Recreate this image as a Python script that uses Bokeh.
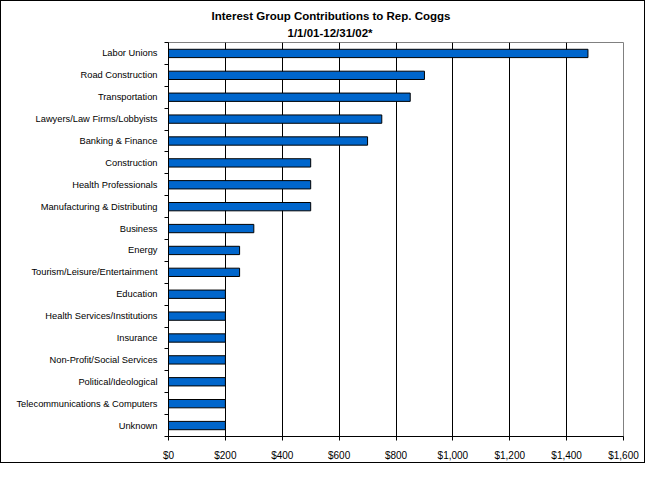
from bokeh.plotting import figure
from bokeh.models import (ColumnDataSource, Range1d, FixedTicker, NumeralTickFormatter, Title)
from bokeh.embed import file_html
from bokeh.resources import INLINE

title_text = "Interest Group Contributions to Rep. Coggs"
subtitle_text = "1/1/01-12/31/02*"

categories = ["Labor Unions", "Road Construction", "Transportation",
              "Lawyers/Law Firms/Lobbyists", "Banking & Finance", "Construction",
              "Health Professionals", "Manufacturing & Distributing", "Business",
              "Energy", "Tourism/Leisure/Entertainment", "Education",
              "Health Services/Institutions", "Insurance", "Non-Profit/Social Services",
              "Political/Ideological", "Telecommunications & Computers", "Unknown"]
values = [1475, 900, 850, 750, 700, 500, 500, 500, 300, 250, 250,
          200, 200, 200, 200, 200, 200, 200]
x_ticks = [0, 200, 400, 600, 800, 1000, 1200, 1400, 1600]

n = len(categories)
positions = [i + 0.5 for i in range(n)]

src = ColumnDataSource(dict(y=positions, v=values, cat=categories))

p = figure(width=645, height=463, output_backend="svg", toolbar_location=None,
           title=None, x_range=Range1d(0, 1600), y_range=Range1d(n, 0),
           min_border_left=167, min_border_right=23, min_border_top=41,
           min_border_bottom=28)
p.background_fill_color = "white"
p.border_fill_color = "white"
p.outline_line_color = "#808080"
p.outline_line_width = 1
p.styles = {"border": "1px solid black"}

p.hbar(y="y", left=0, right="v", height=0.38, source=src,
       fill_color="#0066CC", line_color="black", line_width=1)

# x axis
xa = p.xaxis[0]
xa.ticker = FixedTicker(ticks=x_ticks)
xa.formatter = NumeralTickFormatter(format="$0,0")
xa.axis_line_color = "black"
xa.major_tick_line_color = "black"
xa.major_tick_out = 4
xa.major_tick_in = 0
xa.minor_tick_line_color = None
xa.major_label_standoff = 9
xa.major_label_text_font = "Liberation Sans"
xa.major_label_text_font_size = "10px"
xa.major_label_text_color = "black"

# y axis
ya = p.yaxis[0]
ya.ticker = FixedTicker(ticks=positions, minor_ticks=list(range(n + 1)))
ya.major_label_overrides = {pos: c for pos, c in zip(positions, categories)}
ya.axis_line_color = "black"
ya.major_tick_line_color = None
ya.major_tick_out = 0
ya.major_tick_in = 0
ya.minor_tick_line_color = "black"
ya.minor_tick_out = 4
ya.minor_tick_in = 0
ya.major_label_standoff = 7
ya.major_label_text_font = "Liberation Sans"
ya.major_label_text_font_size = "9.3px"
ya.major_label_text_color = "black"

# grid
p.ygrid.grid_line_color = None
p.xgrid.ticker = FixedTicker(ticks=x_ticks[1:-1])
p.xgrid.grid_line_color = "black"
p.xgrid.grid_line_alpha = 1.0
p.xgrid.grid_line_width = 1

# titles (two lines, shifted left to centre on the whole chart)
p.add_layout(Title(text=subtitle_text, align="left", offset=119, standoff=8,
                   text_font="Liberation Sans", text_font_style="bold",
                   text_font_size="11.5px", text_color="black"), "above")
p.add_layout(Title(text=title_text, align="left", offset=43, standoff=-3,
                   text_font="Liberation Sans", text_font_style="bold",
                   text_font_size="11.5px", text_color="black"), "above")

open("out.html", "w").write(file_html(p, INLINE))
